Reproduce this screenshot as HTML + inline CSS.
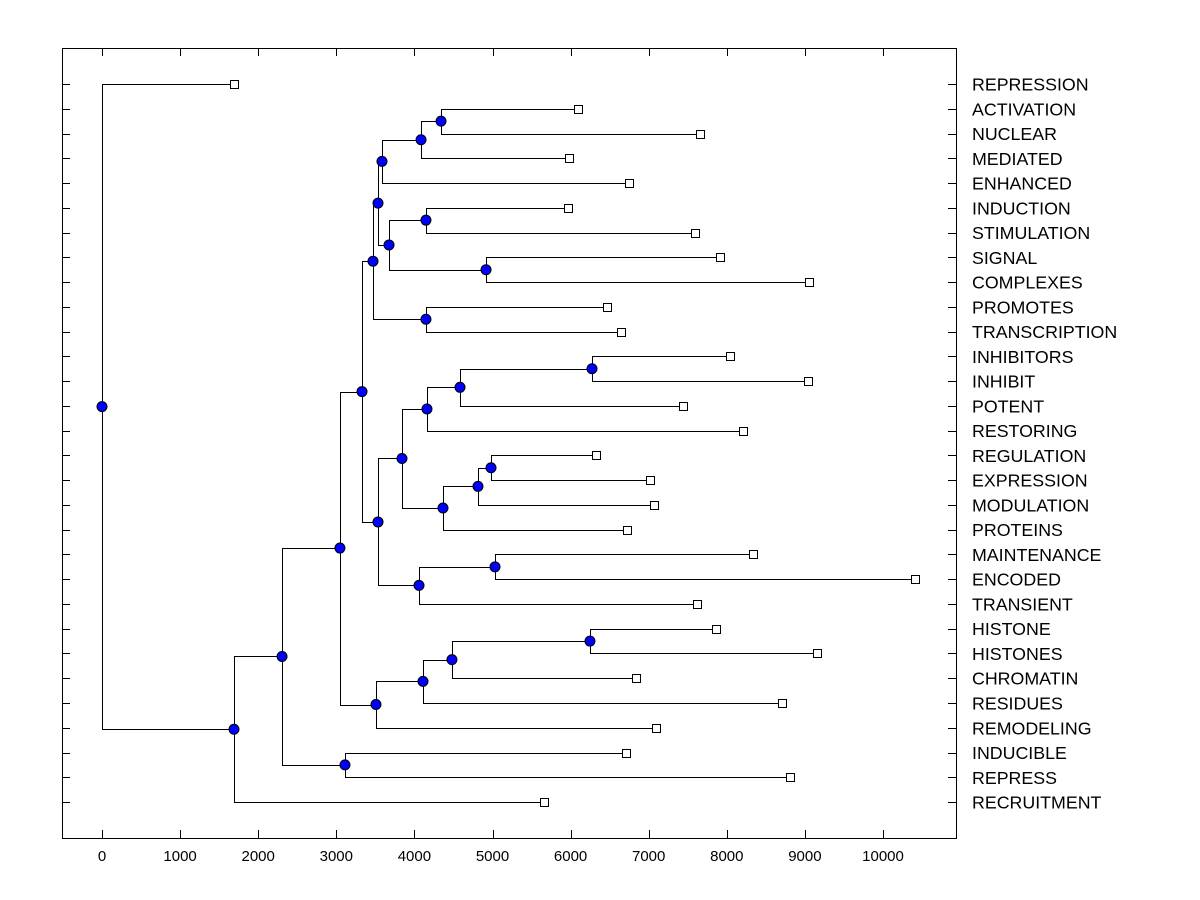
<!DOCTYPE html>
<html><head><meta charset="utf-8"><style>
body{margin:0;background:#fff}
svg{display:block;font-family:"Liberation Sans",Arial,sans-serif}
</style></head><body>
<svg id="chart" width="1200" height="900" viewBox="0 0 1200 900">
<rect x="62.5" y="48.5" width="894" height="790" fill="none" stroke="#000"/>
<g id="g"></g>
</svg>
<script>
const leafNames=["REPRESSION","ACTIVATION","NUCLEAR","MEDIATED","ENHANCED","INDUCTION","STIMULATION","SIGNAL","COMPLEXES","PROMOTES","TRANSCRIPTION","INHIBITORS","INHIBIT","POTENT","RESTORING","REGULATION","EXPRESSION","MODULATION","PROTEINS","MAINTENANCE","ENCODED","TRANSIENT","HISTONE","HISTONES","CHROMATIN","RESIDUES","REMODELING","INDUCIBLE","REPRESS","RECRUITMENT"];
const leafValues=[1690,6095,7657,5980,6748,5967,7593,7913,9052,6466,6645,8041,9040,7439,8207,6325,7017,7068,6722,8335,10410,7618,7862,9155,6837,8707,7093,6709,8809,5659];
const nodeIds=["A","B","C","D","E","F","G","H","I","J","K","L","M","N","O","P","Q","R","S","T","U","V","W","X","Y","Z","AA","AB","ROOT"];
const nodeLeft=[1,"A","B",5,7,"D","C",9,"G",11,"J","K",15,"M","N","L",19,"Q","P","I",22,"U","V","W","T",27,"Y","AA",0];
const nodeRight=[2,3,4,6,8,"E","F",10,"H",12,13,14,16,17,18,"O",20,21,"R","S",23,24,25,26,"X",28,"Z",29,"AB"];
const nodeValues=[4341,4085,3585,4148,4917,3675,3534,4148,3470,6274,4584,4161,4981,4814,4366,3841,5032,4059,3534,3329,6248,4481,4110,3508,3047,3111,2305,1690,0];
const xTicks=[0,1000,2000,3000,4000,5000,6000,7000,8000,9000,10000];

const NS="http://www.w3.org/2000/svg";
const g=document.getElementById('g');
const xs=v=>102+v*0.0781;
const ys=i=>84+i*24.76;
function el(t,a){const e=document.createElementNS(NS,t);for(const k in a)e.setAttribute(k,a[k]);g.appendChild(e);return e;}
xTicks.forEach(t=>{
  const x=Math.round(xs(t))+0.5;
  const b=el('line',{x1:x,x2:x,y1:838,y2:830,stroke:'#000'});
  
  
  const tp=el('line',{x1:x,x2:x,y1:48,y2:56,stroke:'#000'});
  
  
  const tx=el('text',{x:xs(t),y:861,'font-size':15,'text-anchor':'middle'});
  tx.textContent=t;
  
  
});
leafNames.forEach((n,i)=>{
  const y=Math.round(ys(i))+0.5;
  const l=el('line',{x1:62,x2:70,y1:y,y2:y,stroke:'#000'});
  
  
  const r=el('line',{x1:948,x2:956,y1:y,y2:y,stroke:'#000'});
  
  
  const t=el('text',{x:972,y:ys(i)+6.5,'font-size':17.8});
  t.textContent=n;
  
  
});
const pos={};
leafNames.forEach((n,i)=>{pos[i]={x:xs(leafValues[i]),y:ys(i),leaf:true};});
const get=k=>pos[k];
nodeIds.forEach((id,j)=>{
  const a=get(nodeLeft[j]),b=get(nodeRight[j]);
  const x=xs(nodeValues[j]);
  pos[id]={x:x,y:(a.y+b.y)/2};
  const p=el('polyline',{points:`${a.x},${Math.round(a.y)+0.5} ${Math.round(x)+0.5},${Math.round(a.y)+0.5} ${Math.round(x)+0.5},${Math.round(b.y)+0.5} ${b.x},${Math.round(b.y)+0.5}`,fill:'none',stroke:'#000'});
  
  
});
leafNames.forEach((n,i)=>{
  const s=el('rect',{x:Math.round(pos[i].x)-3.5,y:Math.round(pos[i].y)-3.5,width:8,height:8,fill:'#fff',stroke:'#000'});
  
  
});
nodeIds.forEach(id=>{
  const c=el('circle',{cx:pos[id].x,cy:pos[id].y,r:5,fill:'#0000ff',stroke:'#000'});
  
  
});
</script>
</body></html>
